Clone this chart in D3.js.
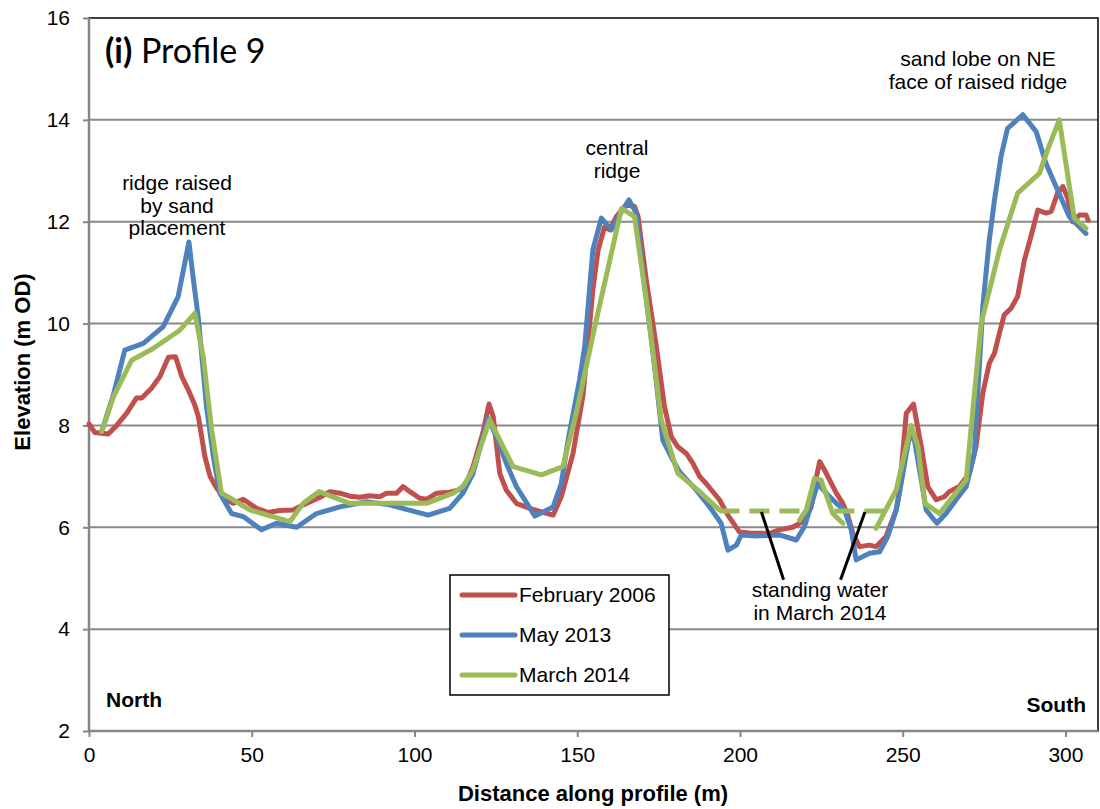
<!DOCTYPE html>
<html>
<head>
<meta charset="utf-8">
<script src="https://cdn.jsdelivr.net/npm/d3@7"></script>
<style>
  html, body { margin: 0; padding: 0; background: #fff; }
  svg { display: block; }
  text { font-family: "Liberation Sans", Arial, sans-serif; fill: #000; }
</style>
</head>
<body>
<svg id="chart" width="1100" height="809"></svg>
<script>
// ---------------- DATA ----------------
const seriesNames = ["February 2006", "May 2013", "March 2014"];
const seriesColors = ["#C0504D", "#4F81BD", "#9BBB59"];

const distFeb2006 = [0, 1.8, 5.9, 8.5, 11.6, 14.6, 16.2, 19.2, 21.8, 24.4, 26.6, 28.5, 30.5, 32.5, 33.6, 35.6, 37.2, 39.2, 42.3, 44.3, 47.4, 51.5, 55.1, 58.6, 62.7, 65.8, 71, 74, 77.1, 80.1, 83.2, 86.3, 89.3, 91.4, 94.5, 96.5, 98.6, 101.6, 103.7, 106.8, 110.8, 113.9, 115.9, 118, 121, 122.9, 124.2, 126.2, 128.2, 131.3, 135.4, 138.5, 142.6, 145.1, 148.7, 151.8, 154.8, 156.4, 158.4, 160, 162, 165.1, 167.6, 168.7, 171.2, 174.3, 176.8, 178.9, 180.9, 183.5, 185.5, 187.6, 189.6, 193.7, 196.3, 199.8, 202.9, 209.1, 212.1, 216.2, 219.3, 221.9, 223.4, 224.5, 226.5, 229.6, 231.6, 233.1, 234.7, 236.7, 239.8, 241.8, 244.9, 248, 249, 251.1, 253.3, 255.7, 257.7, 260.3, 262.8, 264.3, 267.4, 270.5, 272.5, 274.6, 276.6, 278.2, 279.7, 281.2, 283.3, 285.3, 287.4, 289.4, 291.5, 294, 295.6, 297.6, 299.2, 300.7, 302.2, 304.3, 306.3, 307];
const elevFeb2006 = [8.03, 7.86, 7.83, 8.0, 8.24, 8.54, 8.54, 8.73, 8.96, 9.34, 9.35, 8.96, 8.70, 8.40, 8.17, 7.39, 7.0, 6.77, 6.54, 6.47, 6.55, 6.37, 6.29, 6.33, 6.34, 6.44, 6.59, 6.70, 6.67, 6.61, 6.59, 6.62, 6.60, 6.67, 6.67, 6.80, 6.70, 6.57, 6.55, 6.67, 6.69, 6.74, 6.86, 7.19, 7.85, 8.42, 8.17, 7.06, 6.73, 6.47, 6.37, 6.31, 6.24, 6.60, 7.45, 8.6, 10.66, 11.44, 11.90, 11.84, 12.10, 12.33, 12.30, 12.10, 10.86, 9.55, 8.37, 7.78, 7.58, 7.45, 7.26, 7.0, 6.86, 6.54, 6.24, 5.91, 5.89, 5.88, 5.95, 6.0, 6.11, 6.40, 6.96, 7.29, 7.06, 6.67, 6.47, 6.24, 5.88, 5.62, 5.65, 5.62, 5.82, 6.34, 6.73, 8.24, 8.42, 7.58, 6.80, 6.54, 6.60, 6.70, 6.80, 7.06, 7.58, 8.63, 9.22, 9.42, 9.81, 10.17, 10.30, 10.53, 11.25, 11.71, 12.23, 12.17, 12.20, 12.56, 12.69, 12.46, 12.0, 12.13, 12.13, 12.03];

const distMay2013 = [3.9, 7.5, 11, 16.7, 22.8, 27.4, 30.7, 32, 33.6, 36.1, 38.2, 40.2, 43.8, 47.4, 53, 57.6, 63.8, 69.9, 77.1, 85.3, 92.4, 97.5, 104.2, 110.8, 114.9, 118, 122.6, 125.2, 128.2, 131.3, 137, 142.6, 145.1, 147.2, 150.7, 152.3, 154.8, 157.4, 160.5, 163.6, 165.9, 168.1, 170.2, 173.3, 176.3, 179.4, 181.4, 186.6, 190.7, 194.2, 196.3, 198.9, 200.4, 205, 212.1, 217.3, 219.8, 221.4, 223.9, 226.5, 229.6, 232.1, 234.2, 235.7, 239.8, 242.9, 245.4, 248, 249, 252.1, 253.6, 255.7, 257.2, 260.5, 263.3, 266.4, 269.5, 272, 274.6, 276.6, 278.2, 280.2, 282.2, 286.9, 291, 294, 297.6, 301.2, 306.3];
const elevMay2013 = [7.88, 8.6, 9.48, 9.61, 9.94, 10.53, 11.6, 10.9, 10.1, 8.37, 7.39, 6.67, 6.27, 6.21, 5.95, 6.08, 6.0, 6.27, 6.40, 6.50, 6.44, 6.35, 6.24, 6.37, 6.67, 7.06, 8.14, 7.78, 7.26, 6.80, 6.22, 6.40, 6.86, 7.71, 8.89, 9.55, 11.44, 12.07, 11.84, 12.20, 12.43, 12.17, 10.99, 9.42, 7.71, 7.32, 7.09, 6.73, 6.40, 6.08, 5.55, 5.65, 5.85, 5.83, 5.85, 5.75, 6.01, 6.34, 6.86, 6.67, 6.47, 6.34, 5.95, 5.36, 5.49, 5.52, 5.82, 6.34, 6.67, 7.81, 7.71, 6.93, 6.34, 6.08, 6.27, 6.54, 6.80, 7.45, 10.33, 11.64, 12.43, 13.28, 13.83, 14.10, 13.77, 13.15, 12.62, 12.10, 11.77];

// null = gap (standing water, no survey)
const distMar2014 = [3.9, 7.5, 13.1, 19.7, 27.9, 32.5, 35.1, 37.7, 40.7, 44.3, 49.4, 61.7, 65.8, 70.7, 80.1, 103.7, 111.9, 114.9, 118, 123.1, 130.3, 139, 145.6, 149.7, 155.4, 163.6, 167.6, 171.8, 175.8, 180.9, 187.1, 193.7, 206, 218.3, 220.4, 222.9, 224.9, 228.5, 231.6, 237, 241.8, 248, 252.6, 254.7, 256.8, 261.3, 269.5, 274.1, 279.7, 285.3, 292, 294.5, 298.1, 302.7, 306.3];
const elevMar2014 = [7.88, 8.56, 9.28, 9.51, 9.87, 10.2, 9.35, 7.91, 6.67, 6.54, 6.34, 6.11, 6.47, 6.70, 6.47, 6.47, 6.67, 6.80, 7.13, 8.11, 7.19, 7.03, 7.19, 8.24, 9.94, 12.26, 12.10, 10.20, 8.11, 7.06, 6.73, 6.34, null, 6.14, 6.34, 6.96, 6.93, 6.27, 6.08, null, 5.98, 6.73, 8.0, 7.58, 6.47, 6.27, 6.93, 10.0, 11.44, 12.56, 12.95, 13.41, 14.0, 12.07, 11.87];

// standing water (dashed, March 2014)
const waterDist1 = [193.7, 220.4];
const waterDist2 = [229.0, 246.0];
const waterLevel = 6.32;

const yTicks = [2, 4, 6, 8, 10, 12, 14, 16];
const xTicks = [0, 50, 100, 150, 200, 250, 300];

// ---------------- LAYOUT ----------------
const svg = d3.select("#chart");
const L = 89, R = 1098, T = 18, B = 731;
const FS = 21;
const x = d3.scaleLinear().domain([0, 310]).range([L, R]);
const y = d3.scaleLinear().domain([2, 16]).range([B, T]);

// gridlines
svg.append("g").selectAll("line").data(yTicks.filter(d => d > 2 && d < 16)).join("line")
  .attr("x1", L).attr("x2", R).attr("y1", d => y(d)).attr("y2", d => y(d))
  .attr("stroke", "#898989").attr("stroke-width", 2);

// plot border (top/right)
svg.append("rect").attr("x", L).attr("y", T).attr("width", R - L).attr("height", B - T)
  .attr("fill", "none").attr("stroke", "#000").attr("stroke-width", 1.5);

// axes
const yAxis = d3.axisLeft(y).tickValues(yTicks).tickSize(6).tickPadding(13);
const gy = svg.append("g").attr("transform", `translate(${L},0)`).call(yAxis);
const xAxis = d3.axisBottom(x).tickValues(xTicks).tickSize(6).tickPadding(10);
const gx = svg.append("g").attr("transform", `translate(0,${B})`).call(xAxis);
[gx, gy].forEach(g => {
  g.select(".domain").attr("stroke", "#868686").attr("stroke-width", 2.5);
  g.selectAll(".tick line").attr("stroke", "#868686").attr("stroke-width", 2);
  g.selectAll(".tick text").attr("font-family", "Liberation Sans, Arial, sans-serif")
    .attr("font-size", FS).attr("fill", "#000");
});
gx.select(".domain").attr("d", `M${L},0H${R}`);
gy.select(".domain").attr("d", `M0,${B}V${T}`);

// series lines
const line = d3.line().defined(d => d[1] !== null).x(d => x(d[0])).y(d => y(d[1]));
const zip = (a, b) => a.map((v, i) => [v, b[i]]);
const seriesData = [zip(distFeb2006, elevFeb2006), zip(distMay2013, elevMay2013), zip(distMar2014, elevMar2014)];
seriesData.forEach((s, i) => {
  svg.append("path").datum(s).attr("d", line)
    .attr("fill", "none").attr("stroke", seriesColors[i]).attr("stroke-width", 5)
    .attr("stroke-linejoin", "round").attr("stroke-linecap", "round");
});

// standing water dashes
[waterDist1, waterDist2].forEach(wd => {
  svg.append("path").datum(wd.map(d => [d, waterLevel])).attr("d", line)
    .attr("fill", "none").attr("stroke", seriesColors[2]).attr("stroke-width", 5)
    .attr("stroke-dasharray", "20,10");
});

// pointer lines
const pointers = [[[206.6, 6.3], [213.4, 4.97]], [[238.4, 6.3], [230.9, 4.97]]];
pointers.forEach(p => {
  svg.append("line").attr("x1", x(p[0][0])).attr("y1", y(p[0][1]))
    .attr("x2", x(p[1][0])).attr("y2", y(p[1][1]))
    .attr("stroke", "#000").attr("stroke-width", 3);
});

// annotations
function label(lines, cx, cy0, dy, opts = {}) {
  const t = svg.append("text").attr("text-anchor", opts.anchor || "middle")
    .attr("font-size", opts.size || FS).attr("font-weight", opts.weight || "normal");
  lines.forEach((s, i) => t.append("tspan").attr("x", cx).attr("y", cy0 + i * dy).text(s));
}
label(["ridge raised", "by sand", "placement"], 177, 190, 22.5);
label(["central", "ridge"], 617, 155, 23);
label(["sand lobe on NE", "face of raised ridge"], 978, 66, 23);
label(["standing water", "in March 2014"], 820, 597, 22.5);
label(["North"], 106, 707, 0, {anchor: "start", weight: "bold"});
label(["South"], 1086, 712, 0, {anchor: "end", weight: "bold"});

// panel title
const title = svg.append("text").attr("x", 105).attr("y", 63).attr("font-size", 34)
  .style("font-family", "Lato, 'Open Sans', sans-serif");
title.append("tspan").attr("font-weight", "bold").text("(i)");
title.append("tspan").text(" Profile 9");

// axis titles
svg.append("text").attr("x", 593).attr("y", 801).attr("text-anchor", "middle")
  .attr("font-size", 22).attr("font-weight", "bold").text("Distance along profile (m)");
svg.append("text").attr("transform", "translate(30,362) rotate(-90)").attr("text-anchor", "middle")
  .attr("font-size", 22).attr("font-weight", "bold").text("Elevation (m OD)");

// legend
const lg = svg.append("g");
lg.append("rect").attr("x", 450).attr("y", 575).attr("width", 219).attr("height", 120)
  .attr("fill", "#fff").attr("stroke", "#000").attr("stroke-width", 1.5);
seriesNames.forEach((n, i) => {
  const yy = 595 + i * 40;
  lg.append("line").attr("x1", 462).attr("x2", 515).attr("y1", yy).attr("y2", yy)
    .attr("stroke", seriesColors[i]).attr("stroke-width", 5).attr("stroke-linecap", "round");
  lg.append("text").attr("x", 519).attr("y", yy + 7).attr("font-size", FS).text(n);
});
</script>
</body>
</html>
